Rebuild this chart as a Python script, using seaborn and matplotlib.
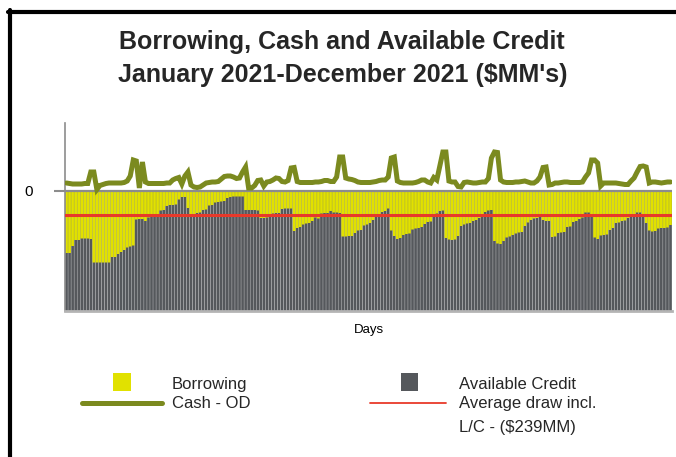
import matplotlib
matplotlib.use("Agg")
import matplotlib.pyplot as plt
from matplotlib.lines import Line2D
from matplotlib.patches import Rectangle
import numpy as np
import pandas as pd
import seaborn as sns

# Daily borrowing under the facility ($MM, drawn amount)
borrowing = [
    620, 620, 550, 490, 490, 475, 475, 475, 480, 715,
    715, 715, 715, 715, 715, 660, 660, 630, 610, 590,
    565, 555, 545, 285, 280, 280, 300, 265, 260, 235,
    230, 195, 190, 150, 140, 140, 135, 85, 60, 60,
    170, 255, 250, 220, 215, 190, 185, 145, 140, 115,
    110, 105, 100, 70, 60, 55, 55, 55, 55, 190,
    190, 190, 190, 195, 270, 270, 265, 240, 225, 220,
    220, 180, 175, 175, 175, 400, 370, 360, 335, 325,
    320, 300, 265, 275, 225, 220, 220, 200, 215, 215,
    220, 455, 455, 450, 450, 420, 395, 390, 345, 335,
    320, 290, 250, 235, 210, 200, 175, 395, 450, 480,
    470, 440, 430, 425, 385, 375, 370, 360, 330, 310,
    305, 240, 225, 200, 195, 470, 485, 490, 485, 450,
    350, 335, 325, 320, 300, 290, 270, 250, 210, 195,
    190, 500, 525, 530, 500, 465, 455, 440, 425, 415,
    410, 350, 315, 290, 275, 270, 250, 290, 300, 300,
    460, 455, 420, 415, 410, 360, 355, 310, 300, 280,
    265, 215, 215, 250, 465, 480, 445, 440, 435, 390,
    370, 320, 315, 300, 295, 270, 250, 230, 215, 215,
    235, 320, 395, 405, 400, 375, 370, 370, 365, 340,
]

# Daily cash balance net of overdraft ($MM)
cash_od = [
    80, 75, 70, 70, 70, 70, 75, 75, 190, 190,
    15, 55, 65, 75, 80, 80, 80, 80, 80, 85,
    100, 150, 310, 300, 30, 290, 90, 75, 75, 75,
    75, 75, 75, 80, 80, 110, 125, 135, 70, 150,
    190, 60, 40, 35, 40, 60, 80, 85, 90, 90,
    95, 120, 145, 150, 150, 140, 125, 130, 190, 240,
    30, 30, 55, 105, 110, 50, 90, 95, 110, 130,
    125, 95, 90, 105, 230, 235, 95, 85, 85, 85,
    85, 85, 90, 90, 95, 105, 105, 95, 95, 140,
    340, 340, 130, 120, 115, 105, 90, 85, 85, 85,
    85, 90, 95, 105, 110, 110, 140, 330, 340, 100,
    85, 80, 80, 80, 80, 85, 95, 110, 110, 90,
    80, 135, 110, 250, 390, 390, 100, 90, 90, 45,
    40, 85, 90, 85, 80, 80, 85, 90, 90, 125,
    330, 390, 385, 110, 90, 85, 85, 85, 90, 90,
    95, 100, 90, 80, 80, 100, 140, 235, 240, 60,
    65, 80, 80, 85, 90, 90, 85, 85, 85, 85,
    90, 140, 180, 310, 310, 280, 50, 80, 80, 80,
    80, 80, 75, 70, 65, 65, 100, 130, 190, 245,
    250, 240, 80, 90, 90, 85, 80, 85, 90, 90,
]

credit_line = 1200      # total facility ($MM)
average_draw = 239      # average draw incl. L/C ($MM)
days = list(range(1, len(borrowing) + 1))

YELLOW = "#e1e100"
GRAY = "#55585c"
OLIVE = "#7b8a1f"
RED = "#e8392a"
AXIS = "#8c8c8c"

sns.set_theme(style="white")
plt.rcParams["font.family"] = ["Liberation Sans", "DejaVu Sans"]

W, H = 676, 457
fig = plt.figure(figsize=(W / 100, H / 100), dpi=100)
fig.patch.set_facecolor("white")


def fx(px):
    return px / W


def fy(py):
    return 1 - py / H


ax = fig.add_axes([fx(65), fy(311), fx(672) - fx(65), fy(123) - fy(311)])

df = pd.DataFrame({"day": days, "borrowing": borrowing, "cash": cash_od})
df["facility"] = -credit_line
df["drawn"] = -df["borrowing"]
df["pos"] = np.arange(len(df))

# Full facility in gray, the drawn part painted over it in yellow
sns.barplot(data=df, x="day", y="facility", color=GRAY, saturation=1,
            width=0.9, linewidth=0, errorbar=None, ax=ax, zorder=1)
sns.barplot(data=df, x="day", y="drawn", color=YELLOW, saturation=1,
            width=0.9, linewidth=0, errorbar=None, ax=ax, zorder=2)
for bar in ax.patches:
    bar.set_snap(False)

ax.axhline(0, color=AXIS, lw=1.6, zorder=3)
ax.axhline(-average_draw, color=RED, lw=2.2, zorder=4)
sns.lineplot(data=df, x="pos", y="cash", color=OLIVE, lw=3.6, ax=ax,
             zorder=5, solid_joinstyle="miter")

ax.set_xlim(-0.5, len(days) - 0.5)
ax.set_ylim(-credit_line, 680)
ax.set_xticks([])
ax.set_yticks([0])
ax.set_yticklabels(["0"])
ax.tick_params(axis="y", length=8, width=1.5, color=AXIS, pad=15,
               labelsize=11, labelcolor="black", left=True)
ax.set_ylabel("")
ax.set_xlabel("Days", fontsize=9.5, labelpad=9, color="black")

for side in ("top", "right"):
    ax.spines[side].set_visible(False)
ax.spines["left"].set_color(AXIS)
ax.spines["left"].set_linewidth(1.2)
ax.spines["bottom"].set_color("#b4b4b4")
ax.spines["bottom"].set_linewidth(2)

# Title
fig.text(fx(342), fy(49.5), "Borrowing, Cash and Available Credit",
         ha="center", va="baseline", fontsize=18, fontweight="bold")
fig.text(fx(342.5), fy(82), "January 2021-December 2021 ($MM's)",
         ha="center", va="baseline", fontsize=18, fontweight="bold")

# Legend
fig.add_artist(Rectangle((fx(113), fy(391)), fx(131) - fx(113), fy(373) - fy(391),
                         transform=fig.transFigure, color=YELLOW, lw=0))
fig.add_artist(Line2D([fx(82), fx(162)], [fy(402.5), fy(402.5)],
                      transform=fig.transFigure, color=OLIVE, lw=3.6))
fig.add_artist(Rectangle((fx(401), fy(391)), fx(418) - fx(401), fy(373) - fy(391),
                         transform=fig.transFigure, color=GRAY, lw=0))
fig.add_artist(Line2D([fx(370), fx(446)], [fy(403), fy(403)],
                      transform=fig.transFigure, color=RED, lw=1.3))
legend_font = dict(fontsize=12, va="baseline", ha="left")
fig.text(fx(172), fy(389), "Borrowing", **legend_font)
fig.text(fx(172), fy(408), "Cash - OD", **legend_font)
fig.text(fx(459), fy(389), "Available Credit", **legend_font)
fig.text(fx(459), fy(408), "Average draw incl.", **legend_font)
fig.text(fx(459), fy(432), f"L/C - (${average_draw}MM)", **legend_font)

# Frame
fig.add_artist(Line2D([fx(8), fx(676)], [fy(12), fy(12)],
                      transform=fig.transFigure, color="black", lw=3))
fig.add_artist(Line2D([fx(10), fx(10)], [fy(10), fy(457)],
                      transform=fig.transFigure, color="black", lw=3))

fig.savefig("out.png", dpi=100)
